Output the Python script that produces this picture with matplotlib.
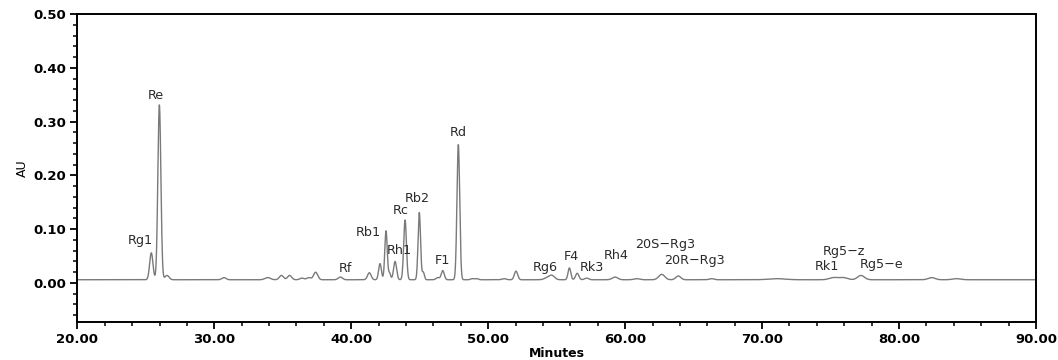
import numpy as np
import matplotlib
matplotlib.use("Agg")
import matplotlib.pyplot as plt
from matplotlib.ticker import MultipleLocator, FormatStrFormatter

# peak table: retention time (min), height (AU), width (sigma, min)
peak_times = [25.40, 25.99, 26.55, 30.70, 33.90, 34.90, 35.50, 36.40, 36.90, 37.40, 39.20,
              41.32, 42.10, 42.54, 42.80, 43.20, 43.93, 44.97, 45.26, 46.31, 46.68, 47.82,
              48.84, 49.16, 51.16, 52.03, 54.27, 54.64, 55.93, 56.50, 57.19, 59.26, 60.84,
              62.67, 63.88, 66.32, 71.07, 75.20, 75.93, 77.22, 82.38, 84.20]
peak_heights = [0.050, 0.325, 0.008, 0.004, 0.004, 0.008, 0.008, 0.003, 0.004, 0.014, 0.005,
                0.013, 0.030, 0.091, 0.012, 0.034, 0.111, 0.125, 0.014, 0.004, 0.017, 0.251,
                0.002, 0.002, 0.002, 0.016, 0.003, 0.008, 0.022, 0.012, 0.003, 0.005, 0.002,
                0.010, 0.007, 0.002, 0.002, 0.004, 0.004, 0.008, 0.004, 0.002]
peak_widths = [0.12, 0.11, 0.15, 0.15, 0.20, 0.15, 0.15, 0.15, 0.15, 0.15, 0.15,
               0.13, 0.10, 0.09, 0.08, 0.11, 0.10, 0.09, 0.08, 0.12, 0.11, 0.10,
               0.12, 0.12, 0.15, 0.12, 0.20, 0.20, 0.10, 0.12, 0.15, 0.20, 0.20,
               0.22, 0.18, 0.18, 0.60, 0.30, 0.30, 0.25, 0.25, 0.30]
baseline = 0.006

# peak labels: name, x, y
label_names = ["Rg1", "Re", "Rf", "Rb1", "Rh1", "Rc", "Rb2", "F1", "Rd", "Rg6", "F4", "Rk3",
               "Rh4", "20S\u2212Rg3", "20R\u2212Rg3", "Rk1", "Rg5\u2212z", "Rg5\u2212e"]
label_x = [24.58, 25.70, 39.55, 41.25, 43.49, 43.63, 44.85, 46.68, 47.78, 54.20, 56.05, 57.60,
           59.38, 62.90, 65.05, 74.76, 76.00, 78.73]
label_y = [0.079, 0.349, 0.026, 0.093, 0.061, 0.134, 0.157, 0.042, 0.279, 0.029, 0.050, 0.028,
           0.051, 0.071, 0.042, 0.030, 0.059, 0.034]


def build_trace(t):
    y = np.full_like(t, baseline)
    for t0, h, w in zip(peak_times, peak_heights, peak_widths):
        y += h * np.exp(-0.5 * ((t - t0) / w) ** 2)
    return y


t = np.linspace(20, 90, 14001)
signal = build_trace(t)

fig = plt.figure(figsize=(10.58, 3.6), dpi=100)
ax = fig.add_axes([0.0731, 0.1064, 0.9061, 0.8547])
ax.plot(t, signal, color="#7a7a7a", lw=1.0)

for name, x, y in zip(label_names, label_x, label_y):
    ax.text(x, y, name, ha="center", va="center", fontsize=9.2, color="#2a2a2a")

ax.set_xlim(20, 90)
ax.set_ylim(-0.072, 0.50)
ax.xaxis.set_major_locator(MultipleLocator(10))
ax.xaxis.set_minor_locator(MultipleLocator(2))
ax.yaxis.set_major_locator(MultipleLocator(0.1))
ax.yaxis.set_minor_locator(MultipleLocator(0.02))
ax.xaxis.set_major_formatter(FormatStrFormatter("%.2f"))
ax.yaxis.set_major_formatter(FormatStrFormatter("%.2f"))
ax.tick_params(which="major", direction="out", length=5, width=1.3, labelsize=9.5, pad=3)
ax.tick_params(which="minor", direction="out", length=3, width=1.1)
for lab in ax.get_xticklabels() + ax.get_yticklabels():
    lab.set_fontweight("bold")
for sp in ax.spines.values():
    sp.set_linewidth(1.4)

ax.set_xlabel("Minutes", fontsize=9, fontweight="bold", labelpad=1)
ax.set_ylabel("AU", fontsize=9, labelpad=3)

fig.savefig("out.png", dpi=100)
